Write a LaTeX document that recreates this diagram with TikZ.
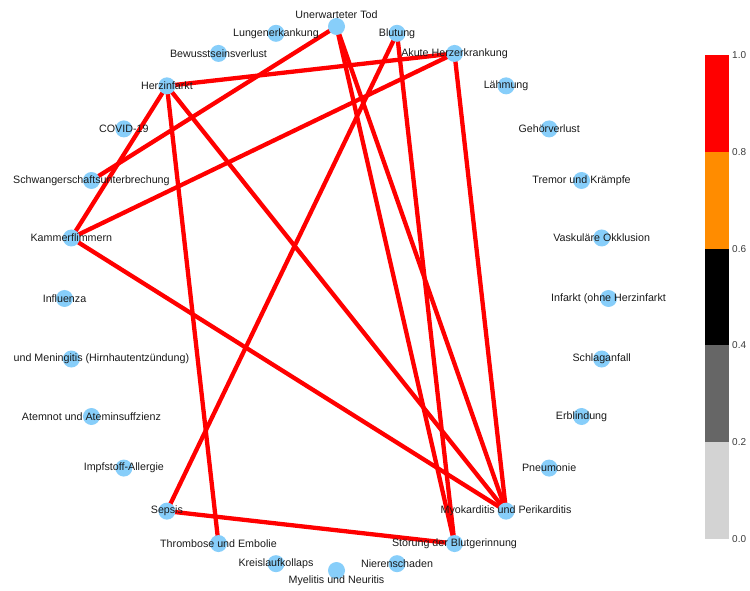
\documentclass[tikz,border=0pt]{standalone}
\usepackage{fontspec}
\setmainfont{Liberation Sans}
\pgfdeclarelayer{background}
\pgfsetlayers{background,main}
\definecolor{nodeblue}{HTML}{87CEFA}
\definecolor{edgered}{HTML}{FF0000}
\definecolor{cbred}{HTML}{FF0000}
\definecolor{cborange}{HTML}{FF8C00}
\definecolor{cbblack}{HTML}{000000}
\definecolor{cbdgray}{HTML}{666666}
\definecolor{cblgray}{HTML}{D3D3D3}
\definecolor{txt}{HTML}{1A1A1A}
\tikzset{
  vn/.style={circle,fill=nodeblue,draw=none,minimum size=17pt,inner sep=0pt},
  lab/.style={text=txt,inner sep=0pt,font=\fontsize{10.7}{12}\selectfont},
  edge/.style={edgered,line width=4.3pt},
  ticklab/.style={text=txt!85,inner sep=0pt,anchor=west,font=\fontsize{10}{12}\selectfont}
}
\begin{document}
\begin{tikzpicture}[x=1pt,y=1pt]
\useasboundingbox (0,0) rectangle (750,590);
\coordinate (c) at (336.5,291.5);
% nodes (k-th node at angle 90 - k*360/28)
\node[vn] (ut)  at ([shift={({90-0*360/28}:272)}]c) {};
\node[vn] (blu) at ([shift={({90-1*360/28}:272)}]c) {};
\node[vn] (akh) at ([shift={({90-2*360/28}:272)}]c) {};
\node[vn] (lae) at ([shift={({90-3*360/28}:272)}]c) {};
\node[vn] (geh) at ([shift={({90-4*360/28}:272)}]c) {};
\node[vn] (tre) at ([shift={({90-5*360/28}:272)}]c) {};
\node[vn] (vas) at ([shift={({90-6*360/28}:272)}]c) {};
\node[vn] (inf) at ([shift={({90-7*360/28}:272)}]c) {};
\node[vn] (sch) at ([shift={({90-8*360/28}:272)}]c) {};
\node[vn] (erb) at ([shift={({90-9*360/28}:272)}]c) {};
\node[vn] (pne) at ([shift={({90-10*360/28}:272)}]c) {};
\node[vn] (myo) at ([shift={({90-11*360/28}:272)}]c) {};
\node[vn] (stb) at ([shift={({90-12*360/28}:272)}]c) {};
\node[vn] (nie) at ([shift={({90-13*360/28}:272)}]c) {};
\node[vn] (mye) at ([shift={({90-14*360/28}:272)}]c) {};
\node[vn] (kre) at ([shift={({90-15*360/28}:272)}]c) {};
\node[vn] (thr) at ([shift={({90-16*360/28}:272)}]c) {};
\node[vn] (sep) at ([shift={({90-17*360/28}:272)}]c) {};
\node[vn] (imp) at ([shift={({90-18*360/28}:272)}]c) {};
\node[vn] (ate) at ([shift={({90-19*360/28}:272)}]c) {};
\node[vn] (men) at ([shift={({90-20*360/28}:272)}]c) {};
\node[vn] (ifl) at ([shift={({90-21*360/28}:272)}]c) {};
\node[vn] (kam) at ([shift={({90-22*360/28}:272)}]c) {};
\node[vn] (swa) at ([shift={({90-23*360/28}:272)}]c) {};
\node[vn] (cov) at ([shift={({90-24*360/28}:272)}]c) {};
\node[vn] (hzi) at ([shift={({90-25*360/28}:272)}]c) {};
\node[vn] (bew) at ([shift={({90-26*360/28}:272)}]c) {};
\node[vn] (lun) at ([shift={({90-27*360/28}:272)}]c) {};
% edges
\begin{pgfonlayer}{background}
\draw[edge] (ut.center) -- (swa.center);
\draw[edge] (hzi.center) -- (akh.center);
\draw[edge] (akh.center) -- (kam.center);
\draw[edge] (hzi.center) -- (kam.center);
\draw[edge] (hzi.center) -- (thr.center);
\draw[edge] (hzi.center) -- (myo.center);
\draw[edge] (kam.center) -- (myo.center);
\draw[edge] (blu.center) -- (sep.center);
\draw[edge] (blu.center) -- (stb.center);
\draw[edge] (akh.center) -- (myo.center);
\draw[edge] (ut.center) -- (myo.center);
\draw[edge] (ut.center) -- (stb.center);
\draw[edge] (sep.center) -- (stb.center);
\end{pgfonlayer}
% labels
\node[lab] (Lut)  at ([yshift=12pt]ut.center) {Unerwarteter Tod};
\node[lab] (Lblu) at (blu.center) {Blutung};
\node[lab] (Lakh) at (akh.center) {Akute Herzerkrankung};
\node[lab] (Llae) at (lae.center) {Lähmung};
\node[lab] (Lgeh) at (geh.center) {Gehörverlust};
\node[lab] (Ltre) at (tre.center) {Tremor und Krämpfe};
\node[lab] (Lvas) at (vas.center) {Vaskuläre Okklusion};
\node[lab] (Linf) at (inf.center) {Infarkt (ohne Herzinfarkt};
\node[lab] (Lsch) at (sch.center) {Schlaganfall};
\node[lab] (Lerb) at (erb.center) {Erblindung};
\node[lab] (Lpne) at (pne.center) {Pneumonie};
\node[lab] (Lmyo) at (myo.center) {Myokarditis und Perikarditis};
\node[lab] (Lstb) at (stb.center) {Störung der Blutgerinnung};
\node[lab] (Lnie) at (nie.center) {Nierenschaden};
\node[lab] (Lmye) at ([yshift=-10pt]mye.center) {Myelitis und Neuritis};
\node[lab] (Lkre) at (kre.center) {Kreislaufkollaps};
\node[lab] (Lthr) at (thr.center) {Thrombose und Embolie};
\node[lab] (Lsep) at (sep.center) {Sepsis};
\node[lab] (Limp) at (imp.center) {Impfstoff-Allergie};
\node[lab] (Late) at (ate.center) {Atemnot und Ateminsuffzienz};
\node[lab,anchor=east] (Lmen) at ([xshift=118pt]men.center) {und Meningitis (Hirnhautentzündung)};
\node[lab] (Lifl) at (ifl.center) {Influenza};
\node[lab] (Lkam) at (kam.center) {Kammerflimmern};
\node[lab] (Lswa) at (swa.center) {Schwangerschaftsunterbrechung};
\node[lab] (Lcov) at (cov.center) {COVID-19};
\node[lab] (Lhzi) at (hzi.center) {Herzinfarkt};
\node[lab] (Lbew) at (bew.center) {Bewusstseinsverlust};
\node[lab] (Llun) at (lun.center) {Lungenerkankung};
% colorbar
\fill[cblgray]  (705,51)    rectangle (729,147.8);
\fill[cbdgray]  (705,147.8) rectangle (729,244.6);
\fill[cbblack]  (705,244.6) rectangle (729,341.4);
\fill[cborange] (705,341.4) rectangle (729,438.2);
\fill[cbred]    (705,438.2) rectangle (729,535);
\node[ticklab] (t0) at (732,51)    {0.0};
\node[ticklab] (t2) at (732,147.8) {0.2};
\node[ticklab] (t4) at (732,244.6) {0.4};
\node[ticklab] (t6) at (732,341.4) {0.6};
\node[ticklab] (t8) at (732,438.2) {0.8};
\node[ticklab] (t10) at (732,535)  {1.0};
\end{tikzpicture}
\end{document}
